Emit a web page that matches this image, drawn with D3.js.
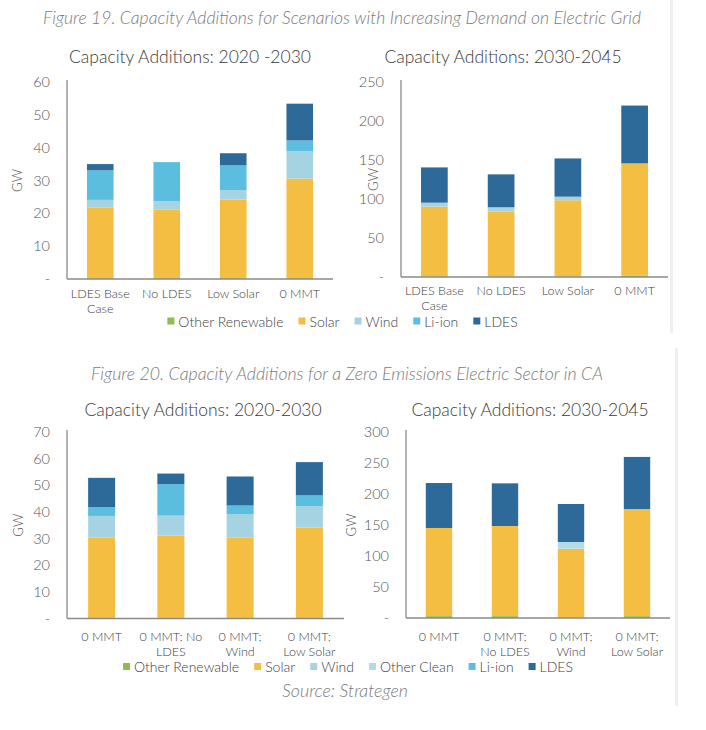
<!DOCTYPE html>
<html>
<head>
<meta charset="utf-8">
<script src="https://cdn.jsdelivr.net/npm/d3@7/dist/d3.min.js"></script>
<style>
  html, body { margin: 0; padding: 0; background: #ffffff; }
  svg { display: block; font-family: Lato, "Open Sans", sans-serif; font-weight: 300; }
</style>
</head>
<body>
<svg id="chart" width="706" height="730"></svg>
<script>
// ---------------- DATA ----------------
const seriesKeys19 = ["Other Renewable", "Solar", "Wind", "Li-ion", "LDES"];
const seriesKeys20 = ["Other Renewable", "Solar", "Wind", "Other Clean", "Li-ion", "LDES"];

const categories19 = [["LDES Base", "Case"], ["No LDES"], ["Low Solar"], ["0 MMT"]];
const categories20 = [["0 MMT"], ["0 MMT; No", "LDES"], ["0 MMT;", "Wind"], ["0 MMT;", "Low Solar"]];
const categories20b = [["0 MMT"], ["0 MMT;", "No LDES"], ["0 MMT;", "Wind"], ["0 MMT;", "Low Solar"]];

// Figure 19, 2020-2030 (GW)
const f19a_otherRenewable = [0.2, 0.2, 0.2, 0.2];
const f19a_solar   = [21.6, 21.0, 24.0, 30.4];
const f19a_wind    = [2.3, 2.5, 2.9, 8.4];
const f19a_liion   = [9.0, 11.9, 7.5, 3.2];
const f19a_ldes    = [1.9, 0.0, 3.7, 11.2];

// Figure 19, 2030-2045 (GW)
const f19b_otherRenewable = [0.5, 0.5, 0.5, 1.5];
const f19b_solar   = [89.8, 83.4, 97.9, 144.2];
const f19b_wind    = [5.0, 5.5, 4.6, 0.0];
const f19b_liion   = [0.0, 0.0, 0.0, 0.0];
const f19b_ldes    = [45.2, 42.2, 49.0, 74.1];

// Figure 20, 2020-2030 (GW)
const f20a_otherRenewable = [0.2, 0.2, 0.2, 0.2];
const f20a_solar   = [30.1, 30.9, 30.1, 33.9];
const f20a_wind    = [8.2, 7.5, 8.9, 8.1];
const f20a_otherClean = [0.0, 0.0, 0.0, 0.0];
const f20a_liion   = [3.3, 11.8, 3.2, 4.0];
const f20a_ldes    = [11.0, 4.0, 10.9, 12.5];

// Figure 20, 2030-2045 (GW)
const f20b_otherRenewable = [3.0, 3.0, 1.0, 3.0];
const f20b_solar   = [142.2, 145.4, 110.8, 172.8];
const f20b_wind    = [0.0, 0.0, 0.0, 0.0];
const f20b_otherClean = [0.0, 0.0, 10.8, 0.0];
const f20b_liion   = [0.0, 0.0, 0.0, 0.0];
const f20b_ldes    = [72.5, 68.8, 61.3, 84.0];

const yTicks19a = [0, 10, 20, 30, 40, 50, 60];
const yTicks19b = [0, 50, 100, 150, 200, 250];
const yTicks20a = [0, 10, 20, 30, 40, 50, 60, 70];
const yTicks20b = [0, 50, 100, 150, 200, 250, 300];

const colors = {
  "Other Renewable": "#8fbc4f",
  "Solar": "#f4be42",
  "Wind": "#a6d3e1",
  "Other Clean": "#b3dbe5",
  "Li-ion": "#5bbedf",
  "LDES": "#2e6a99"
};

// ---------------- BUILD ----------------
function rows(cats, cols) {
  return cats.map((c, i) => {
    const r = { cat: c.join(" "), lines: c };
    for (const k in cols) r[k] = cols[k][i];
    return r;
  });
}

const panels = [
  {
    title: "Capacity Additions: 2020 -2030", keys: seriesKeys19, ticks: yTicks19a,
    data: rows(categories19, {"Other Renewable": f19a_otherRenewable, "Solar": f19a_solar, "Wind": f19a_wind, "Li-ion": f19a_liion, "LDES": f19a_ldes}),
    x0: 67, x1: 333, y0: 279, y1: 82, titleX: 190, titleY: 63, gwX: 22, lab1: 298, pad: 0.6
  },
  {
    title: "Capacity Additions: 2030-2045", keys: seriesKeys19, ticks: yTicks19b,
    data: rows(categories19, {"Other Renewable": f19b_otherRenewable, "Solar": f19b_solar, "Wind": f19b_wind, "Li-ion": f19b_liion, "LDES": f19b_ldes}),
    x0: 401, x1: 668, y0: 277, y1: 82, titleX: 503, titleY: 63, gwX: 378, lab1: 294.5, pad: 0.6
  },
  {
    title: "Capacity Additions: 2020-2030", keys: seriesKeys20, ticks: yTicks20a,
    data: rows(categories20, {"Other Renewable": f20a_otherRenewable, "Solar": f20a_solar, "Wind": f20a_wind, "Other Clean": f20a_otherClean, "Li-ion": f20a_liion, "LDES": f20a_ldes}),
    x0: 67, x1: 344, y0: 618.5, y1: 432, titleX: 203, titleY: 416, gwX: 23, lab1: 641, pad: 0.61
  },
  {
    title: "Capacity Additions: 2030-2045", keys: seriesKeys20, ticks: yTicks20b,
    data: rows(categories20b, {"Other Renewable": f20b_otherRenewable, "Solar": f20b_solar, "Wind": f20b_wind, "Other Clean": f20b_otherClean, "Li-ion": f20b_liion, "LDES": f20b_ldes}),
    x0: 406, x1: 670, y0: 618, y1: 432, titleX: 530, titleY: 416, gwX: 356, lab1: 641, pad: 0.6
  }
];

const svg = d3.select("#chart");

// faint panel edges
svg.append("line").attr("x1", 671.5).attr("x2", 671.5).attr("y1", 0).attr("y2", 333).attr("stroke", "#efefef").attr("stroke-width", 3);
svg.append("line").attr("x1", 676.5).attr("x2", 676.5).attr("y1", 348).attr("y2", 706).attr("stroke", "#efefef").attr("stroke-width", 3);

// captions
function caption(txt, cx, y, w, fs) {
  svg.append("text").attr("x", cx - w / 2).attr("y", y)
    .attr("font-style", "italic").attr("font-size", fs).attr("fill", "#7a7a7a")
    .attr("textLength", w).attr("lengthAdjust", "spacingAndGlyphs")
    .text(txt);
}
caption("Figure 19. Capacity Additions for Scenarios with Increasing Demand on Electric Grid", 342, 24, 598, 17);
caption("Figure 20. Capacity Additions for a Zero Emissions Electric Sector in CA", 347, 380, 512, 17);
caption("Source: Strategen", 345, 697, 126, 17);

const labFont = 12.5, labGap = 15.2;

panels.forEach(p => {
  const g = svg.append("g");
  const x = d3.scaleBand().domain(p.data.map(d => d.cat)).range([p.x0, p.x1])
    .paddingInner(p.pad).paddingOuter(p.pad / 2);
  const y = d3.scaleLinear().domain([0, p.ticks[p.ticks.length - 1]]).range([p.y0, p.y1]);

  const stacked = d3.stack().keys(p.keys)(p.data);
  g.selectAll("g.series").data(stacked).join("g").attr("class", "series")
    .attr("fill", s => colors[s.key])
    .selectAll("rect").data(s => s).join("rect")
    .attr("x", d => x(d.data.cat))
    .attr("width", x.bandwidth())
    .attr("y", d => y(d[1]))
    .attr("height", d => Math.max(0, y(d[0]) - y(d[1])));

  // y axis
  const yAxis = d3.axisLeft(y).tickValues(p.ticks).tickSize(0).tickPadding(17)
    .tickFormat(v => v === 0 ? "-" : v);
  const ya = g.append("g").attr("transform", `translate(${p.x0},0)`).call(yAxis);
  ya.select(".domain").remove();
  ya.selectAll("text").attr("font-size", 14.5).attr("fill", "#555")
    .attr("font-family", "Lato, sans-serif").attr("font-weight", 300);

  // axis lines
  g.append("line").attr("x1", p.x0).attr("x2", p.x0).attr("y1", p.y1 - 2).attr("y2", p.y0)
    .attr("stroke", "#8a8a8a").attr("stroke-width", 1.3);
  g.append("line").attr("x1", p.x0).attr("x2", p.x1).attr("y1", p.y0).attr("y2", p.y0)
    .attr("stroke", "#8a8a8a").attr("stroke-width", 1.3);

  // x labels
  p.data.forEach(d => {
    const cx = x(d.cat) + x.bandwidth() / 2;
    d.lines.forEach((ln, i) => {
      g.append("text").attr("x", cx).attr("y", p.lab1 + i * labGap)
        .attr("text-anchor", "middle").attr("font-size", labFont).attr("fill", "#404040").text(ln);
    });
  });

  // title
  g.append("text").attr("x", p.titleX).attr("y", p.titleY).attr("text-anchor", "middle")
    .attr("font-size", 17.5).attr("fill", "#3a3a3a").text(p.title);

  // GW label
  const gy = (p.y0 + p.y1) / 2;
  g.append("text").attr("transform", `translate(${p.gwX},${gy}) rotate(-90)`)
    .attr("text-anchor", "middle").attr("font-size", 13).attr("fill", "#555").text("GW");
});

// legends
function legend(keys, cx, yBase) {
  const lg = svg.append("g");
  let xPos = 0;
  keys.forEach(k => {
    const it = lg.append("g").attr("transform", `translate(${xPos},0)`);
    it.append("rect").attr("x", 0).attr("y", yBase - 9).attr("width", 7).attr("height", 7).attr("fill", colors[k]);
    const t = it.append("text").attr("x", 11).attr("y", yBase).attr("font-size", 14).attr("fill", "#404040").text(k);
    xPos += 11 + t.node().getComputedTextLength() + 15;
  });
  const total = xPos - 15;
  lg.attr("transform", `translate(${cx - total / 2},0)`);
}
legend(seriesKeys19, 342.5, 326.5);
legend(seriesKeys20, 348, 672);
</script>
</body>
</html>
